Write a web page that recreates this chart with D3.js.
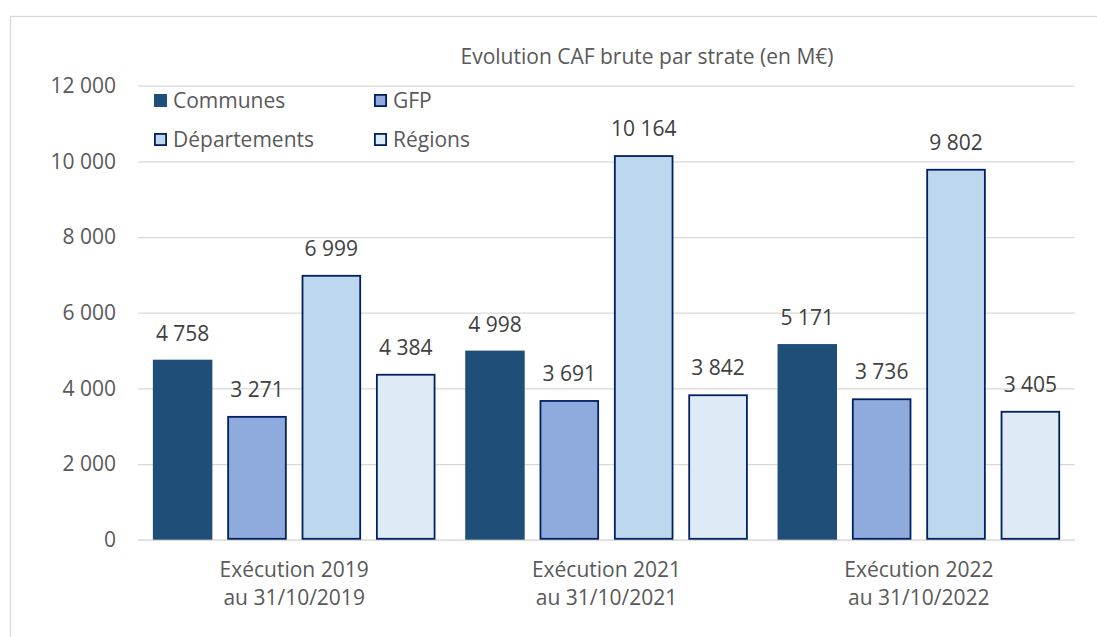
<!DOCTYPE html>
<html><head><meta charset="utf-8">
<script src="https://cdn.jsdelivr.net/npm/d3@7"></script>
<style>body{margin:0;background:#fff}svg{display:block}text{font-family:"Open Sans","Noto Sans",sans-serif}</style>
</head><body>
<svg id="c" width="1097" height="637"></svg>
<script>
const categories = [["Exécution 2019","au 31/10/2019"],["Exécution 2021","au 31/10/2021"],["Exécution 2022","au 31/10/2022"]];
const seriesNames = ["Communes","GFP","Départements","Régions"];
const communes = [4758, 4998, 5171];
const gfp = [3271, 3691, 3736];
const departements = [6999, 10164, 9802];
const regions = [4384, 3842, 3405];
const yTicks = [0, 2000, 4000, 6000, 8000, 10000, 12000];
const title = "Evolution CAF brute par strate (en M€)";

const seriesValues = [communes, gfp, departements, regions];
const fills = ["#1F4E79", "#8FAADC", "#BDD7EE", "#DEEBF7"];
const strokes = ["#1F4E79", "#002060", "#002060", "#002060"];

const svg = d3.select("#c");
const fmt = v => d3.format(",")(v).replace(/,/g, " ");
const FS = 21;

svg.append("rect").attr("x",10.5).attr("y",16.5).attr("width",1200).attr("height",800)
  .attr("fill","none").attr("stroke","#d9d9d9").attr("stroke-width",1.3);

const pL = 138, pR = 1075, pT = 85.7, pB = 539.7;
const y = d3.scaleLinear().domain([0, 12000]).range([pB, pT]);
const x0 = d3.scaleBand().domain(d3.range(categories.length)).range([pL, pR]).paddingInner(0).paddingOuter(0);
const x1 = d3.scaleBand().domain(d3.range(seriesNames.length)).range([0, x0.bandwidth()]).paddingInner(0.2).paddingOuter(0.2);

// grid
const ga = svg.append("g").attr("transform", `translate(${pL},0)`)
  .call(d3.axisLeft(y).tickValues(yTicks).tickSize(-(pR-pL)).tickFormat(fmt).tickPadding(22));
ga.select(".domain").remove();
ga.selectAll(".tick line").attr("stroke", d => d === 0 ? "#d0d0d0" : "#d9d9d9").attr("stroke-width", 1.3);
ga.selectAll(".tick text").attr("fill","#595959").style("font-size", FS+"px").attr("font-family", null);

// bars
categories.forEach((c, i) => {
  const g = svg.append("g").attr("transform", `translate(${x0(i)},0)`);
  seriesValues.forEach((vals, s) => {
    const v = vals[i];
    const sw = s === 0 ? 0 : 1.8;
    g.append("rect")
      .attr("x", x1(s) + sw/2).attr("y", y(v) + sw/2)
      .attr("width", x1.bandwidth() - sw).attr("height", y(0) - y(v) - sw)
      .attr("fill", fills[s]).attr("stroke", s === 0 ? "none" : strokes[s]).attr("stroke-width", sw);
    g.append("text").attr("x", x1(s) + x1.bandwidth()/2).attr("y", y(v) - 19)
      .attr("text-anchor","middle").attr("fill","#404040").style("font-size", FS+"px").text(fmt(v));
  });
  const t = svg.append("text").attr("text-anchor","middle").attr("fill","#595959").style("font-size", FS+"px");
  t.append("tspan").attr("x", x0(i) + x0.bandwidth()/2).attr("y", 577).text(c[0]);
  t.append("tspan").attr("x", x0(i) + x0.bandwidth()/2).attr("y", 605).text(c[1]);
});

// title
svg.append("text").attr("x", 647).attr("y", 64).attr("text-anchor","middle")
  .attr("fill","#595959").style("font-size", FS+"px").text(title);

// legend
const legPos = [[154,100.5],[374,100.5],[154,139.5],[374,139.5]];
seriesNames.forEach((n, s) => {
  const [lx, ly] = legPos[s];
  const sw = s === 0 ? 0 : 1.8;
  svg.append("rect").attr("x", lx + sw/2).attr("y", ly - 6.5 + sw/2).attr("width", 13 - sw).attr("height", 13 - sw)
    .attr("fill", fills[s]).attr("stroke", s === 0 ? "none" : strokes[s]).attr("stroke-width", sw);
  svg.append("text").attr("x", lx + 19).attr("y", ly + 7).attr("fill","#595959").style("font-size", FS+"px").text(n);
});
</script>
</body></html>
